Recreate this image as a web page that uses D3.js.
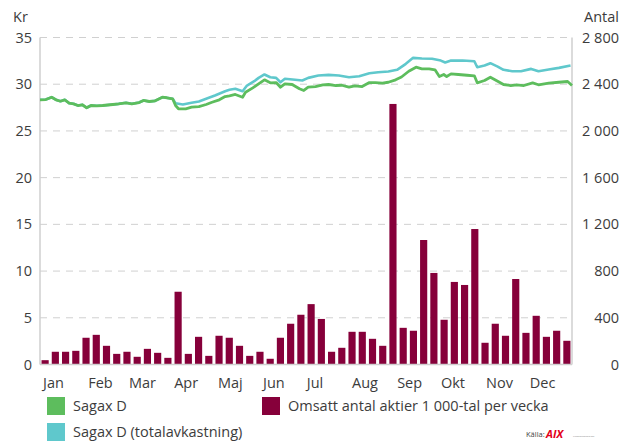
<!DOCTYPE html>
<meta charset="utf-8">
<style>
body { margin: 0; background: #fff; }
svg { display: block; font-family: "Open Sans", sans-serif; }
.grid line { stroke: #d0d0d0; stroke-dasharray: 7,6; }
.frame { stroke: #cfcfcf; stroke-width: 1.5; }
.tick-lbl { fill: #3c3c3c; font-size: 14.5px; }
.legend text { fill: #3c3c3c; font-size: 14.5px; }
</style>
<div id="chart"></div>
<script src="https://cdn.jsdelivr.net/npm/d3@7"></script>
<script>

// weekly turnover, thousands of shares
var volume = [37, 109, 109, 117, 229, 254, 160, 91, 109, 66, 134, 100, 57, 623,
  91, 237, 74, 246, 229, 160, 74, 109, 49, 229, 349, 426, 517, 390,
  109, 143, 280, 280, 220, 160, 2231, 314, 289, 1066, 784, 383, 707, 681,
  1160, 186, 349, 246, 732, 271, 417, 237, 289, 203]

// Sagax D closing price, [day of year, kr]
var price = [[0, 28.33], [4, 28.36], [8, 28.61], [11, 28.33], [14, 28.18], [17, 28.33],
  [20, 27.97], [23, 27.90], [26, 27.72], [29, 27.80], [32, 27.48], [35, 27.72],
  [39, 27.69], [43, 27.72], [50, 27.83], [54, 27.90], [59, 28.01], [63, 27.90],
  [68, 28.04], [71, 28.26], [75, 28.15], [79, 28.22], [84, 28.61], [87, 28.55],
  [91, 28.44], [93, 27.72], [95, 27.37], [100, 27.37], [104, 27.54], [109, 27.61],
  [114, 27.83], [118, 28.07], [123, 28.33], [127, 28.68], [130, 28.76], [134, 28.90],
  [139, 28.61], [141, 29.14], [146, 29.61], [150, 30.04], [154, 30.47], [158, 30.15],
  [162, 30.18], [165, 29.68], [168, 30.04], [173, 29.97], [178, 29.51], [181, 29.33],
  [184, 29.68], [189, 29.75], [194, 29.94], [198, 29.97], [203, 29.86], [207, 29.89],
  [212, 29.68], [216, 29.83], [221, 29.75], [226, 30.18], [230, 30.18], [235, 30.11],
  [239, 30.21], [244, 30.47], [248, 30.77], [253, 31.39], [258, 31.82], [262, 31.65],
  [267, 31.65], [271, 31.54], [274, 30.82], [277, 31.04], [279, 30.82], [282, 31.11],
  [287, 31.04], [293, 30.96], [298, 30.90], [300, 30.15], [305, 30.40], [309, 30.75],
  [314, 30.32], [318, 29.97], [323, 29.86], [327, 29.94], [332, 29.86], [338, 30.15],
  [342, 29.94], [349, 30.11], [356, 30.21], [362, 30.29], [365, 29.86]]

// total return after the April dividend (same as price before that)
var totalAfter = [[93, 27.97], [98, 27.83], [104, 28.01], [109, 28.15], [114, 28.44],
  [120, 28.79], [127, 29.25], [130, 29.40], [134, 29.51], [139, 29.25], [142, 29.86],
  [147, 30.32], [150, 30.68], [154, 31.04], [158, 30.75], [162, 30.68], [165, 30.21],
  [168, 30.58], [175, 30.47], [180, 30.40], [184, 30.68], [191, 30.93], [198, 31.00],
  [205, 30.93], [212, 30.75], [219, 30.86], [226, 31.18], [232, 31.28], [239, 31.36],
  [245, 31.54], [251, 32.18], [256, 32.82], [262, 32.75], [269, 32.72], [275, 32.53],
  [278, 32.32], [282, 32.53], [290, 32.53], [298, 32.46], [300, 31.82], [305, 32.00],
  [309, 32.25], [314, 31.89], [318, 31.54], [324, 31.39], [330, 31.39], [337, 31.64],
  [342, 31.39], [349, 31.57], [356, 31.75], [364, 32.00]]

var months = ["Jan", "Feb", "Mar", "Apr", "Maj", "Jun", "Jul", "Aug", "Sep", "Okt", "Nov", "Dec"]
var monthStart = [0, 31, 59, 90, 120, 151, 181, 212, 243, 273, 304, 334]
var leftTicks = [0, 5, 10, 15, 20, 25, 30, 35]
var rightTicks = [0, 400, 800, 1200, 1600, 2000, 2400, 2800]

var width = 622, height = 444
var margin = {top: 37.5, left: 40, right: 50, bottom: 79.5}
var x0 = margin.left, x1 = width - margin.right
var y0 = height - margin.bottom, y1 = margin.top

var green = "#5dbd5d", teal = "#5fc8cc", maroon = "#86003a"

var total = price.filter(function(d) { return d[0] <= 91 }).concat(totalAfter)

var svg = d3.select("#chart").append("svg")
    .attr("width", width)
    .attr("height", height)

var x = d3.scaleLinear().domain([0, 365]).range([x0, x1])
var xb = d3.scaleBand().domain(d3.range(volume.length)).range([x0, x1])
    .paddingInner(0.3).paddingOuter(0.15)
var yl = d3.scaleLinear().domain([0, 35]).range([y0, y1])
var yr = d3.scaleLinear().domain([0, 2800]).range([y0, y1])

// dashed gridlines
svg.append("g").attr("class", "grid")
  .selectAll("line")
    .data(leftTicks.slice(1))
  .enter().append("line")
    .attr("x1", x0).attr("x2", x1)
    .attr("y1", function(d) { return yl(d) }).attr("y2", function(d) { return yl(d) })

// bars
svg.append("g")
  .selectAll("rect")
    .data(volume)
  .enter().append("rect")
    .attr("x", function(d, i) { return xb(i) })
    .attr("width", xb.bandwidth())
    .attr("y", function(d) { return yr(d) })
    .attr("height", function(d) { return y0 - yr(d) })
    .attr("fill", maroon)

// frame: left, right, bottom
svg.append("g").attr("class", "frame")
  .selectAll("line")
    .data([[x0, y1, x0, y0], [x1, y1, x1, y0], [x0, y0, x1, y0]])
  .enter().append("line")
    .attr("x1", function(d) { return d[0] }).attr("y1", function(d) { return d[1] })
    .attr("x2", function(d) { return d[2] }).attr("y2", function(d) { return d[3] })

var line = d3.line()
    .x(function(d) { return x(d[0]) })
    .y(function(d) { return yl(d[1]) })

svg.append("path").datum(total)
    .attr("d", line)
    .attr("fill", "none").attr("stroke", teal).attr("stroke-width", 2.6)
    .attr("stroke-linejoin", "round")

svg.append("path").datum(price)
    .attr("d", line)
    .attr("fill", "none").attr("stroke", green).attr("stroke-width", 2.8)
    .attr("stroke-linejoin", "round")

// axis labels
svg.append("g").selectAll("text")
    .data(leftTicks)
  .enter().append("text")
    .attr("class", "tick-lbl")
    .attr("x", 32).attr("y", function(d) { return yl(d) })
    .attr("dy", "0.35em").attr("text-anchor", "end")
    .text(function(d) { return d })

svg.append("g").selectAll("text")
    .data(rightTicks)
  .enter().append("text")
    .attr("class", "tick-lbl")
    .attr("x", 619).attr("y", function(d) { return yr(d) })
    .attr("dy", "0.35em").attr("text-anchor", "end")
    .text(function(d) { return d3.format(",")(d).replace(",", " ") })

svg.append("text").attr("class", "tick-lbl")
    .attr("x", 13).attr("y", 22).text("Kr")
svg.append("text").attr("class", "tick-lbl")
    .attr("x", 619).attr("y", 22).attr("text-anchor", "end").text("Antal")

svg.append("g").selectAll("text")
    .data(months)
  .enter().append("text")
    .attr("class", "tick-lbl")
    .attr("x", function(d, i) { return x(monthStart[i]) + 3 })
    .attr("y", 388)
    .text(function(d) { return d })

// legend
var legend = svg.append("g").attr("class", "legend")
var items = [
  {label: "Sagax D", color: green, x: 47, y: 397},
  {label: "Sagax D (totalavkastning)", color: teal, x: 47, y: 423},
  {label: "Omsatt antal aktier 1 000-tal per vecka", color: maroon, x: 262, y: 397}
]
items.forEach(function(d) {
  legend.append("rect").attr("x", d.x).attr("y", d.y)
      .attr("width", 18).attr("height", 18).attr("fill", d.color)
  legend.append("text").attr("x", d.x + 26).attr("y", d.y + 9)
      .attr("dy", "0.35em").text(d.label)
})

// source
var src = svg.append("g")
src.append("text").attr("x", 526).attr("y", 437)
    .attr("font-size", 7.5).attr("fill", "#444").text("Källa:")
src.append("text").attr("x", 546).attr("y", 438)
    .attr("font-size", 11).attr("font-weight", "bold").attr("font-style", "italic")
    .attr("fill", "#e3001b").text("AIX")
src.append("text").attr("x", 573).attr("y", 437)
    .attr("font-size", 2.5).attr("fill", "#888").text("Finansinformation")

</script>
